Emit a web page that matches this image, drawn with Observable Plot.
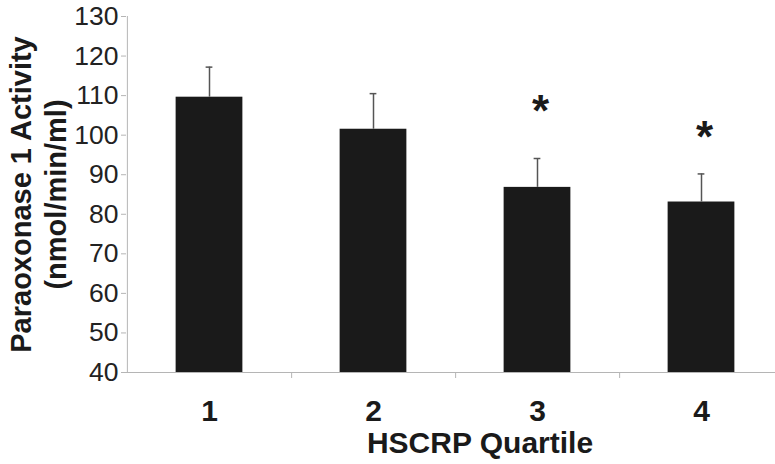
<!DOCTYPE html>
<html><head><meta charset="utf-8">
<script src="https://cdn.jsdelivr.net/npm/d3@7"></script>
<script src="https://cdn.jsdelivr.net/npm/@observablehq/plot@0.6"></script>
<style>html,body{margin:0;padding:0;background:#fff;overflow:hidden} svg{display:block;overflow:hidden}</style>
</head><body><div id="chart"></div>
<script>
// ---- data ----
const quartiles = ["1", "2", "3", "4"];
const means = [109.6, 101.5, 86.8, 83.1];
const errors = [7.6, 9.0, 7.3, 7.1];
const significant = [false, false, true, true];
const starLevels = [null, null, 107.5, 100.9];
const yTicks = [40, 50, 60, 70, 80, 90, 100, 110, 120, 130];
const xTitle = "HSCRP Quartile";
const yTitle = "Paraoxonase 1 Activity\n(nmol/min/ml)";

const data = quartiles.map((q, i) => ({q, mean: means[i], top: means[i] + errors[i]}));
const stars = quartiles.map((q, i) => ({q, y: starLevels[i], sig: significant[i]})).filter(d => d.sig);

// ---- layout ----
const W = 775, H = 464, mL = 126, mR = -8, mT = 16, mB = 92;
const step = (W - mL - mR) / quartiles.length;
const barW = 67, capW = 7;
const font = "'Liberation Sans', Arial, Helvetica, sans-serif";
const axisGray = "#b5b5b5";
const barFill = "#1a1a1a";
const starSize = 44;

const chart = Plot.plot({
  width: W, height: H,
  marginLeft: mL, marginRight: mR, marginTop: mT, marginBottom: mB,
  style: {fontFamily: font, background: "#fff", color: "#1a1a1a"},
  x: {domain: quartiles, padding: 0, axis: null},
  y: {domain: [40, 130], axis: null},
  marks: [
    Plot.ruleY([40], {stroke: axisGray}),
    Plot.ruleX([quartiles[0]], {x: d => d, dx: -step / 2, y1: 40, y2: 130, stroke: axisGray}),
    Plot.axisY({ticks: yTicks, tickSize: 5, tickPadding: 3, fontSize: 26.5, stroke: axisGray, fill: "#222", label: null}),
    Plot.axisX(quartiles.slice(0, 3), {tickSize: 6, text: null, dx: step / 2, stroke: axisGray, label: null}),
    Plot.axisX({tickSize: 0, tickPadding: 27, fontSize: 30, fontWeight: "bold", fill: "#1a1a1a", label: null}),
    Plot.barY(data, {x: "q", y1: 40, y2: "mean", fill: barFill, insetLeft: (step - barW) / 2, insetRight: (step - barW) / 2}),
    Plot.ruleX(data, {x: "q", y1: "mean", y2: "top", stroke: "#555", strokeWidth: 1.5}),
    Plot.tickY(data, {x: "q", y: "top", stroke: "#555", strokeWidth: 1.5, insetLeft: (step - capW) / 2, insetRight: (step - capW) / 2}),
    Plot.text(stars, {x: "q", y: "y", text: () => "*", fontSize: starSize, fontWeight: "bold", fill: "#1a1a1a", lineAnchor: "bottom", dx: 3, dy: 0.46 * starSize}),
    Plot.text([xTitle], {frameAnchor: "bottom", text: d => d, dx: 25, dy: 80, lineAnchor: "bottom", fontSize: 30, fontWeight: "bold", fill: "#1a1a1a"}),
    Plot.text([yTitle], {frameAnchor: "left", text: d => d, rotate: -90, dx: -89, textAnchor: "middle", lineAnchor: "middle", lineHeight: 35 / 29, fontSize: 29, fontWeight: "bold", fill: "#1a1a1a"})
  ]
});
document.getElementById("chart").appendChild(chart);
</script>
</body></html>
